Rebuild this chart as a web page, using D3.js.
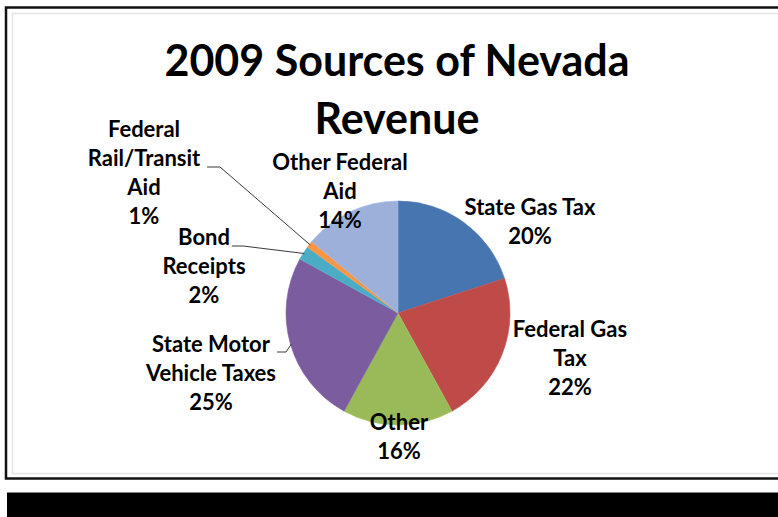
<!DOCTYPE html>
<html>
<head>
<meta charset="utf-8">
<script src="https://cdn.jsdelivr.net/npm/d3@7"></script>
<style>
  html, body { margin: 0; padding: 0; background: #ffffff; }
  svg { display: block; }
  text { font-family: Lato, "Open Sans", sans-serif; font-weight: bold; fill: #000; }
</style>
</head>
<body>
<svg id="chart" width="778" height="517"></svg>
<script>
// Revenue sources (percent of total), clockwise from 12 o'clock
const categories = [
  "State Gas Tax",
  "Federal Gas Tax",
  "Other",
  "State Motor Vehicle Taxes",
  "Bond Receipts",
  "Federal Rail/Transit Aid",
  "Other Federal Aid"
];
const shares = [20, 22, 16, 25, 2, 1, 14];

// Label text broken into lines (name lines, then percentage)
const labelLines = [
  ["State Gas Tax"],
  ["Federal Gas", "Tax"],
  ["Other"],
  ["State Motor", "Vehicle Taxes"],
  ["Bond", "Receipts"],
  ["Federal", "Rail/Transit", "Aid"],
  ["Other Federal", "Aid"]
];

const titleLines = ["2009 Sources of Nevada", "Revenue"];

const sliceColors = ["#4775AF", "#BE4B48", "#9ABA59", "#7B5C9F", "#4BACC6", "#F79646", "#9CB0DA"];

// Layout
const W = 778, H = 517;
const cx = 398, cy = 313, R = 112;
const lineH = 29;
// label block anchor: [center x, first baseline y]
const labelAnchor = [
  [530, 215],
  [570, 337],
  [399, 430],
  [211, 352],
  [204, 245],
  [144, 137],
  [340, 170]
];
// leader lines for labels that sit away from their slice: [label end, elbow]
const leaders = {
  3: [[277, 352], [286, 352]],
  4: [[232, 246], [243, 246]],
  5: [[207, 167], [220, 167]]
};

const svg = d3.select("#chart");

// frame
svg.append("rect").attr("x", 0).attr("y", 0).attr("width", W).attr("height", H).attr("fill", "#fff");
svg.append("rect").attr("x", 12.5).attr("y", 13.5).attr("width", W + 20).attr("height", 460)
  .attr("fill", "none").attr("stroke", "#e4e4e4").attr("stroke-width", 1.5);
svg.append("rect").attr("x", 6).attr("y", 7.5).attr("width", W + 20).attr("height", 471)
  .attr("fill", "none").attr("stroke", "#111").attr("stroke-width", 2.5);
svg.append("rect").attr("x", 7).attr("y", 492.5).attr("width", W).attr("height", H - 492.5)
  .attr("fill", "#000");

// title
const title = svg.append("text").attr("text-anchor", "middle").style("font-size", "43px");
titleLines.forEach((t, i) => {
  title.append("tspan").attr("x", 397).attr("y", 76 + i * 58).text(t);
});

// pie
const pie = d3.pie().sort(null).value(d => d)
  .startAngle(0).endAngle(2 * Math.PI);
const arcs = pie(shares);
const arc = d3.arc().innerRadius(0).outerRadius(R);
const edge = d3.arc().innerRadius(R - 1).outerRadius(R - 1);

const g = svg.append("g").attr("transform", `translate(${cx},${cy})`);
g.selectAll("path.slice")
  .data(arcs)
  .join("path")
  .attr("class", "slice")
  .attr("d", arc)
  .attr("fill", (d, i) => sliceColors[i])
  .attr("stroke", (d, i) => d3.color(sliceColors[i]).brighter(0.15))
  .attr("stroke-width", 0.6);

// leader lines
Object.keys(leaders).forEach(k => {
  const i = +k;
  const [p0, p1] = leaders[i];
  const e = edge.centroid(arcs[i]);
  const pts = [p0, p1, [cx + e[0], cy + e[1]]];
  svg.append("path")
    .attr("d", d3.line()(pts))
    .attr("fill", "none")
    .attr("stroke", "#3a3a3a")
    .attr("stroke-width", 1);
});

// data labels
const fmt = d3.format(".0f");
arcs.forEach((d, i) => {
  const lines = labelLines[i].concat([fmt(d.data) + "%"]);
  const [ax, ay] = labelAnchor[i];
  const t = svg.append("text").attr("text-anchor", "middle").style("font-size", "22px");
  lines.forEach((s, j) => {
    t.append("tspan").attr("x", ax).attr("y", ay + j * lineH).text(s);
  });
});
</script>
</body>
</html>
